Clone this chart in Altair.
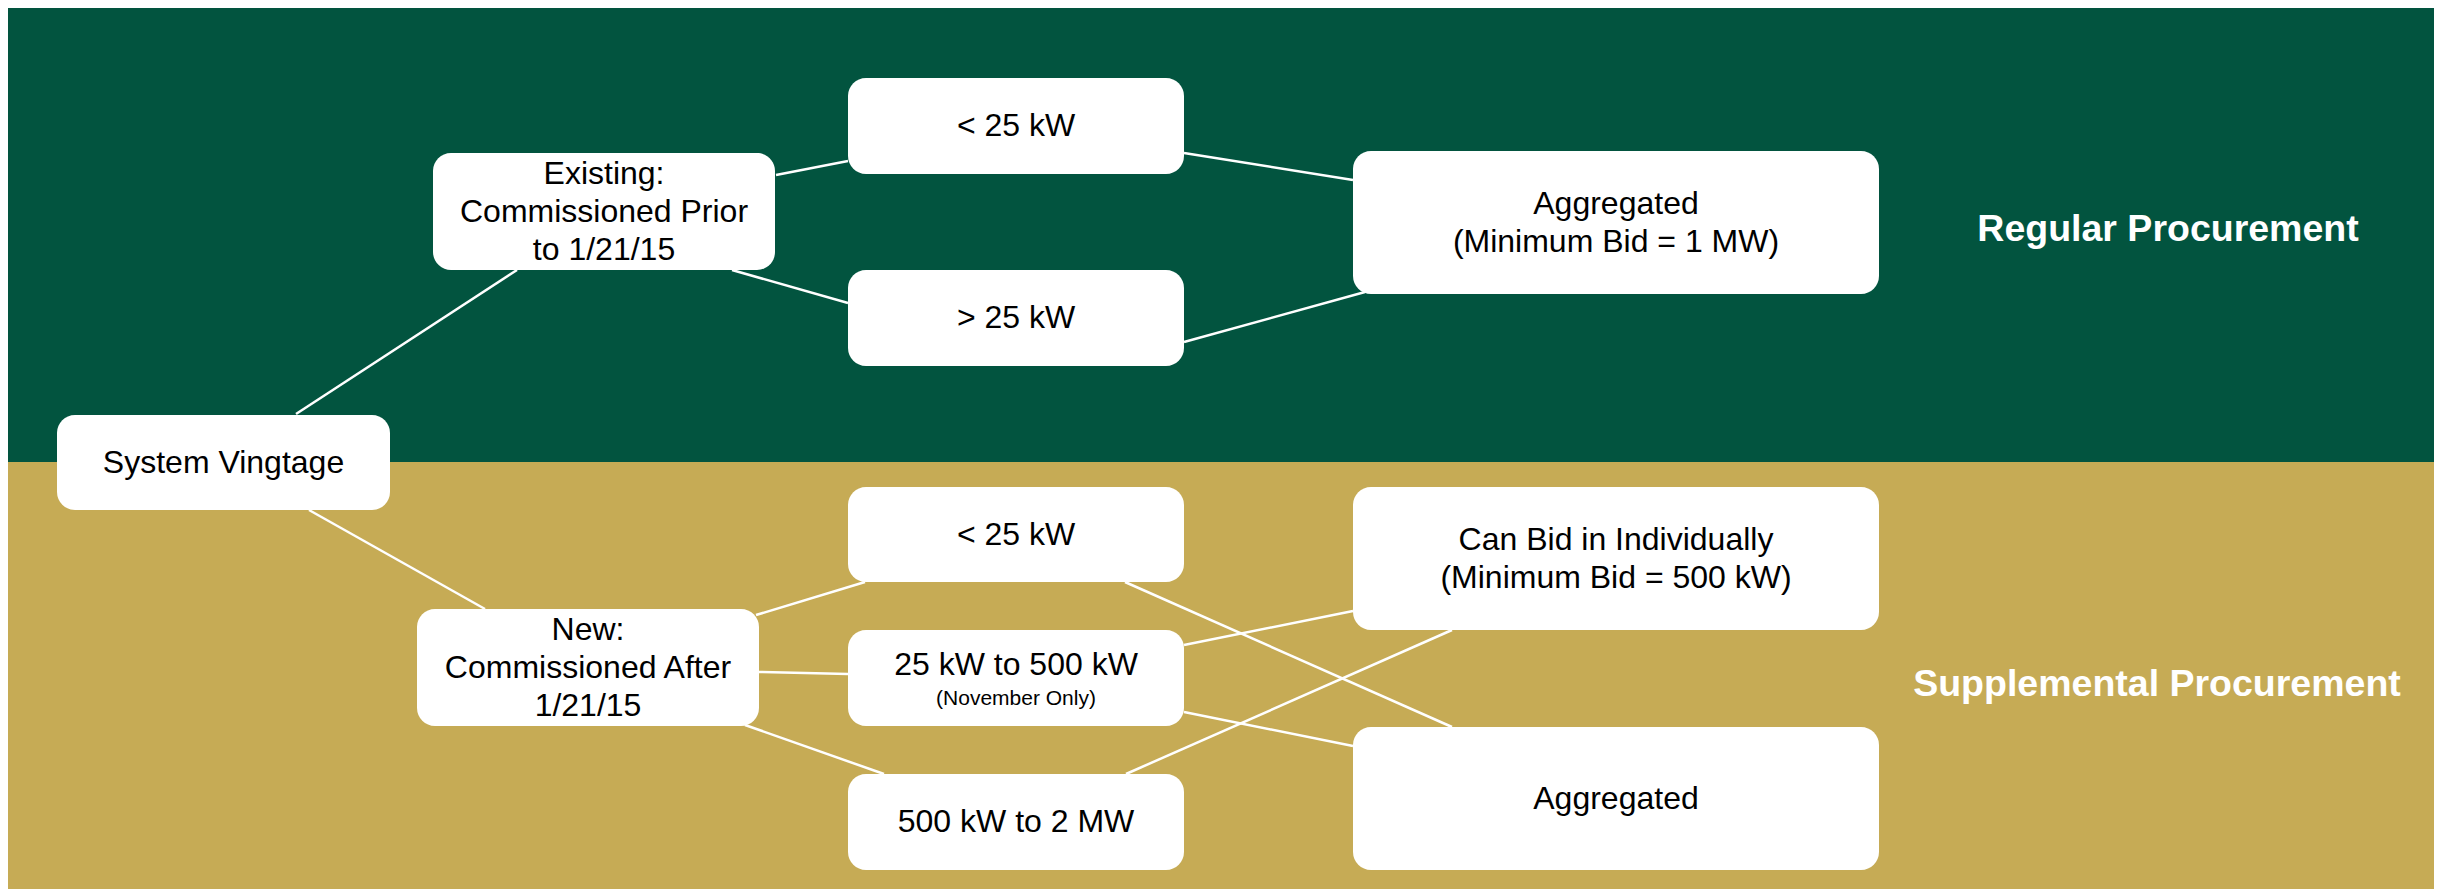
import altair as alt
import pandas as pd

# ---- canvas extent (reference pixel coordinates) ----
W, H = 2426, 881
X0, X1 = 8, 8 + W
Y0, Y1 = 8, 8 + H

# ---- background bands ----
band_names = ["Regular Procurement", "Supplemental Procurement"]
band_top = [6, 462]
band_bottom = [462, 889]
band_colors = ["#02543F", "#C6AB55"]
band_label_x = [2168, 2157]
band_label_y = [230, 685]

# ---- nodes ----
node_ids = ["vintage", "existing", "new", "lt25_r", "gt25_r", "agg_r",
            "lt25_s", "mid_s", "big_s", "ind_s", "agg_s"]
node_labels = [
    "System Vingtage",
    "Existing:\nCommissioned Prior\nto 1/21/15",
    "New:\nCommissioned After\n1/21/15",
    "< 25 kW",
    "> 25 kW",
    "Aggregated\n(Minimum Bid = 1 MW)",
    "< 25 kW",
    "25 kW to 500 kW",
    "500 kW to 2 MW",
    "Can Bid in Individually\n(Minimum Bid = 500 kW)",
    "Aggregated",
]
node_x0 = [57, 433, 417, 848, 848, 1353, 848, 848, 848, 1353, 1353]
node_x1 = [390, 775, 759, 1184, 1184, 1879, 1184, 1184, 1184, 1879, 1879]
node_y0 = [415, 153, 609, 78, 270, 151, 487, 630, 774, 487, 727]
node_y1 = [510, 270, 726, 174, 366, 294, 582, 726, 870, 630, 870]
label_dy = [0, 0, 0, 0, 0, 0, 0, -13, 0, 0, 0]

note_nodes = ["mid_s"]
note_labels = ["(November Only)"]
note_dy = [21]

LINE_H = 38

# ---- edges ----
edge_src = ["vintage", "existing", "existing", "lt25_r", "gt25_r",
            "vintage", "new", "new", "new", "lt25_s", "mid_s", "mid_s", "big_s"]
edge_dst = ["existing", "lt25_r", "gt25_r", "agg_r", "agg_r",
            "new", "lt25_s", "mid_s", "big_s", "agg_s", "ind_s", "agg_s", "ind_s"]
edge_x1 = [296, 776, 732, 1184, 1184, 309, 756, 759, 745, 1125, 1184, 1184, 1126]
edge_y1 = [414, 175, 270, 153, 342, 510, 615, 672, 725, 582, 645, 712, 774]
edge_x2 = [517, 848, 848, 1353, 1365, 485, 865, 848, 884, 1452, 1353, 1353, 1452]
edge_y2 = [270, 161, 303, 180, 292, 609, 582, 674, 774, 727, 611, 746, 630]

# ---- tables ----
bands = pd.DataFrame({
    "name": band_names, "top": band_top, "bottom": band_bottom,
    "color": band_colors, "lx": band_label_x, "ly": band_label_y,
    "left": [5, 5], "right": [2442, 2442],
})
nodes = pd.DataFrame({
    "id": node_ids, "label": node_labels,
    "x0": node_x0, "x1": node_x1, "y0": node_y0, "y1": node_y1,
})
nlines = nodes["label"].str.count("\n")
nodes["cx"] = (nodes["x0"] + nodes["x1"]) / 2
nodes["cy"] = (nodes["y0"] + nodes["y1"]) / 2 + pd.Series(label_dy) - nlines * LINE_H / 2
notes = nodes.set_index("id").loc[note_nodes].reset_index()
notes["label"] = note_labels
notes["cy"] = (notes["y0"] + notes["y1"]) / 2 + pd.Series(note_dy)
edges = pd.DataFrame({"src": edge_src, "dst": edge_dst,
                      "x1": edge_x1, "y1": edge_y1, "x2": edge_x2, "y2": edge_y2})

xs = alt.Scale(domain=[X0, X1], nice=False, zero=False)
ys = alt.Scale(domain=[Y0, Y1], nice=False, zero=False, reverse=True)

bg = alt.Chart(bands).mark_rect(clip=True).encode(
    x=alt.X("left:Q", scale=xs, axis=None), x2="right:Q",
    y=alt.Y("top:Q", scale=ys, axis=None), y2="bottom:Q",
    color=alt.Color("color:N", scale=None),
)
band_text = alt.Chart(bands).mark_text(
    font="Liberation Sans", fontWeight="bold", fontSize=37.5, color="white",
    align="center", baseline="middle",
).encode(
    x=alt.X("lx:Q", scale=xs, axis=None),
    y=alt.Y("ly:Q", scale=ys, axis=None),
    text="name:N",
)
links = alt.Chart(edges).mark_rule(color="white", strokeWidth=2.5).encode(
    x=alt.X("x1:Q", scale=xs, axis=None), x2="x2:Q",
    y=alt.Y("y1:Q", scale=ys, axis=None), y2="y2:Q",
)
boxes = alt.Chart(nodes).mark_rect(color="white", cornerRadius=18).encode(
    x=alt.X("x0:Q", scale=xs, axis=None), x2="x1:Q",
    y=alt.Y("y0:Q", scale=ys, axis=None), y2="y1:Q",
)
labels = alt.Chart(nodes).mark_text(
    font="Liberation Sans", fontSize=32, lineHeight=LINE_H, color="black",
    align="center", baseline="middle", lineBreak="\n",
).encode(
    x=alt.X("cx:Q", scale=xs, axis=None),
    y=alt.Y("cy:Q", scale=ys, axis=None),
    text="label:N",
)
note_text = alt.Chart(notes).mark_text(
    font="Liberation Sans", fontSize=21, color="black",
    align="center", baseline="middle",
).encode(
    x=alt.X("cx:Q", scale=xs, axis=None),
    y=alt.Y("cy:Q", scale=ys, axis=None),
    text="label:N",
)

chart = alt.layer(bg, band_text, links, boxes, labels, note_text).properties(
    width=W, height=H, autosize="none", padding=0, background="white",
).configure_view(stroke=None)

chart.save("out.html", embed_options={"renderer": "svg", "actions": False})
